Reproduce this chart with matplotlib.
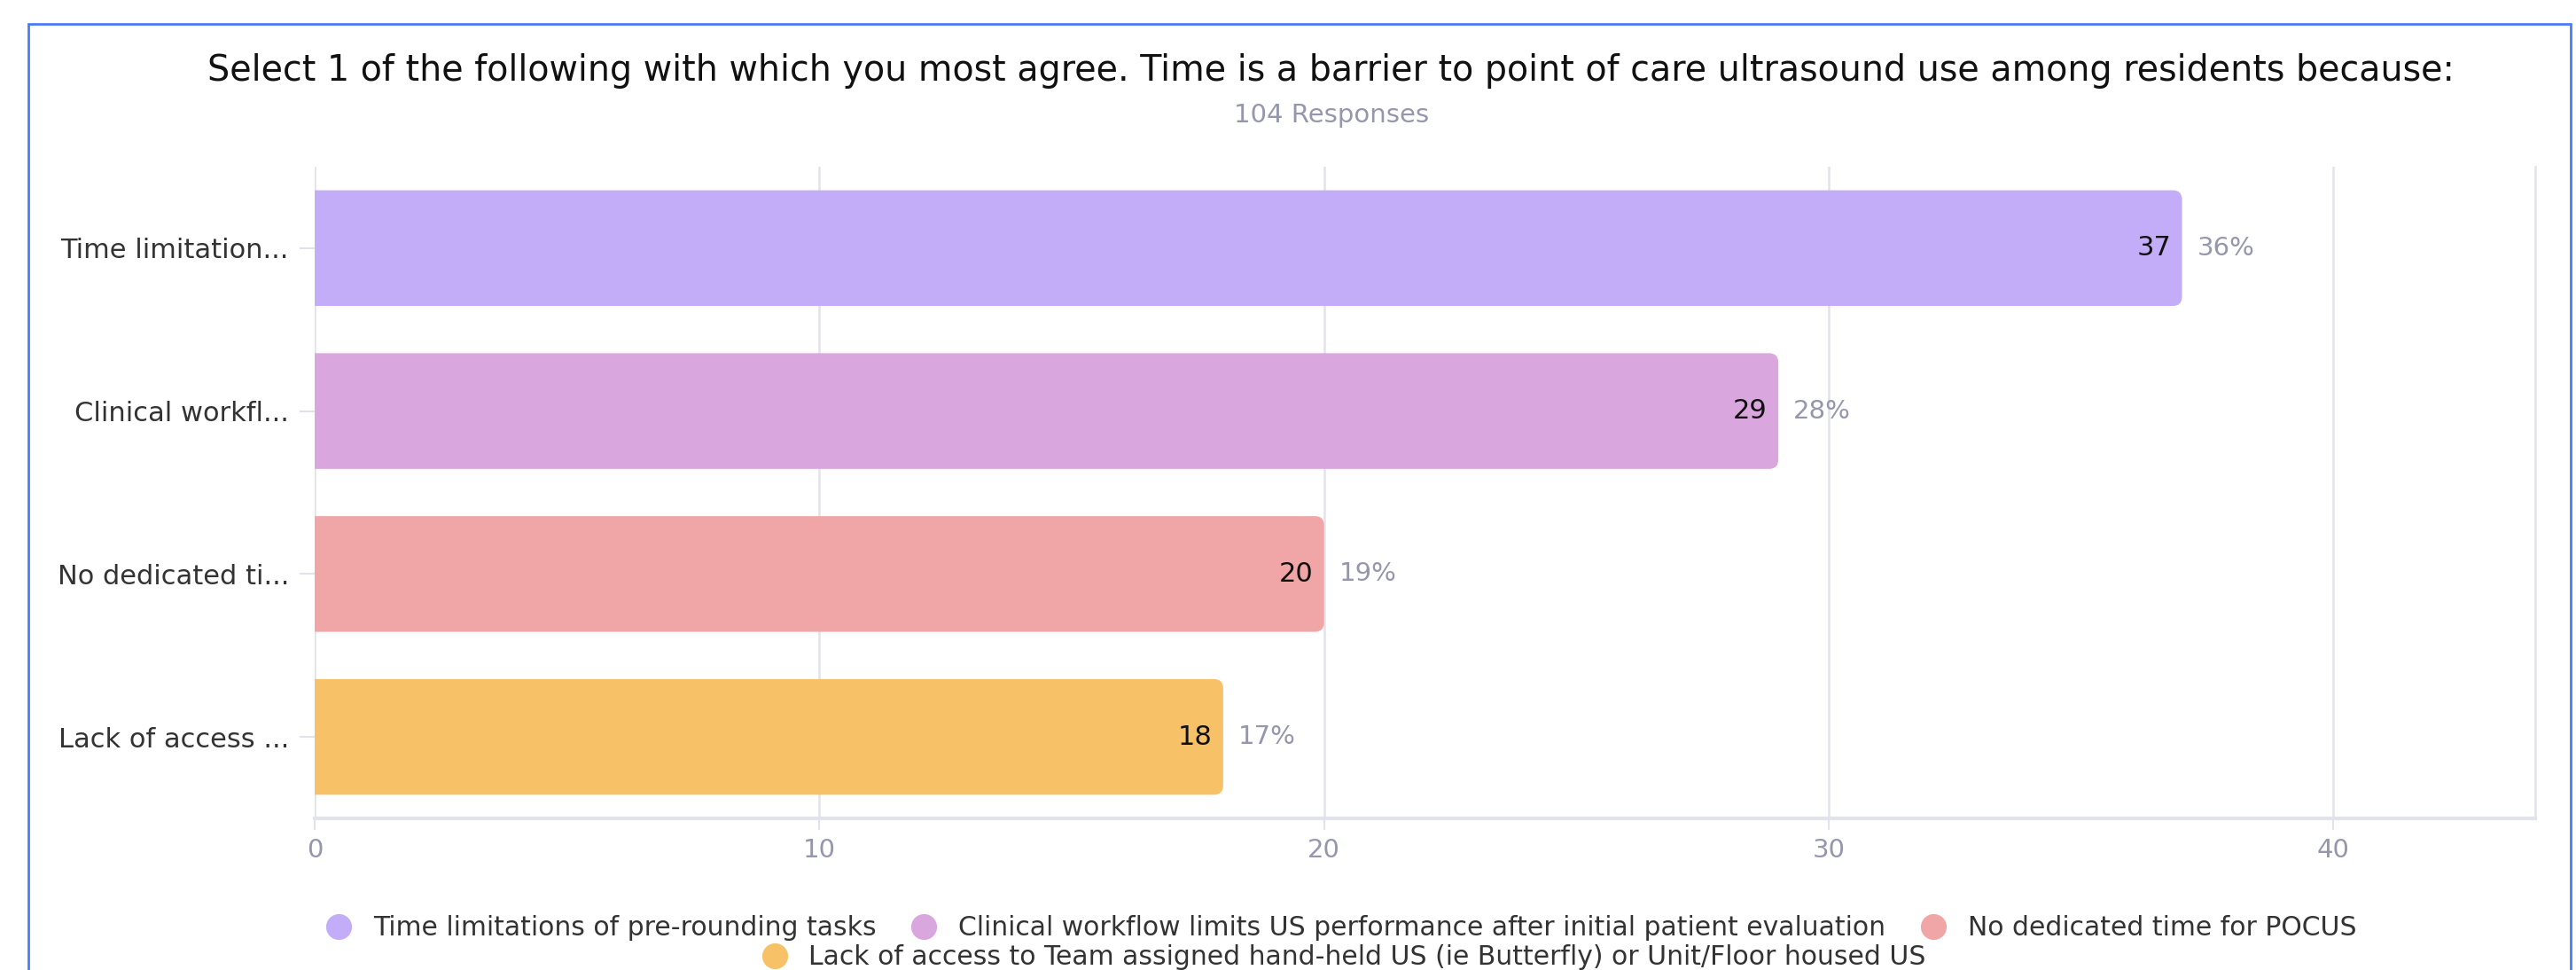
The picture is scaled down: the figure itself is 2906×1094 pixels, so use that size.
import matplotlib
matplotlib.use("Agg")
import matplotlib.pyplot as plt
from matplotlib.patches import FancyBboxPatch, Rectangle
from matplotlib.lines import Line2D

plt.rcParams['font.family'] = ['DejaVu Sans']

# data
short_labels = ["Time limitation...", "Clinical workfl...", "No dedicated ti...", "Lack of access ..."]
full_labels = ["Time limitations of pre-rounding tasks",
               "Clinical workflow limits US performance after initial patient evaluation",
               "No dedicated time for POCUS",
               "Lack of access to Team assigned hand-held US (ie Butterfly) or Unit/Floor housed US"]
counts = [37, 29, 20, 18]
percents = ["36%", "28%", "19%", "17%"]
colors = ["#c3adf8", "#d9a6de", "#f0a6a6", "#f7c267"]
x_ticks = [0, 10, 20, 30, 40]
total_responses = 104

title = ("Select 1 of the following with which you most agree. Time is a barrier "
         "to point of care ultrasound use among residents because:")

grid_col = "#e2e2ec"
gray_txt = "#9696ad"

fig = plt.figure(figsize=(29.06, 10.94), dpi=100)
ax = fig.add_axes([0.1222, 0.1563, 0.8620, 0.6719])

ypos = list(range(len(counts)))
bars = ax.barh(ypos, counts, height=0.71, color=colors)

# swap the plain bars for rounded ones (left side hidden behind x=0)
for b in bars:
    x0, y0, w, h = b.get_x(), b.get_y(), b.get_width(), b.get_height()
    b.set_visible(False)
    rb = FancyBboxPatch((x0 - 0.5, y0), w + 0.5, h,
                        boxstyle="round,pad=0,rounding_size=0.18",
                        mutation_aspect=0.32, facecolor=b.get_facecolor(),
                        edgecolor="none", zorder=3)
    ax.add_patch(rb)

for i, (c, p) in enumerate(zip(counts, percents)):
    ax.text(c - 0.22, i, str(c), ha="right", va="center", fontsize=22,
            color="#111111", zorder=4)
    ax.text(c + 0.3, i, p, ha="left", va="center", fontsize=21,
            color=gray_txt, zorder=4)

ax.set_xlim(0, 44)
ax.set_ylim(len(counts) - 0.5, -0.5)
ax.set_xticks(x_ticks)
ax.set_yticks(ypos)
ax.set_yticklabels(short_labels, fontsize=22, color="#333333")
ax.tick_params(axis="y", length=12, width=1.5, color=grid_col, pad=9)
ax.tick_params(axis="x", length=9, width=1.5, color=grid_col, pad=7,
               labelsize=21, labelcolor=gray_txt)

ax.grid(axis="x", color=grid_col, linewidth=1.8, zorder=0)
ax.set_axisbelow(True)
for s in ["top", "left"]:
    ax.spines[s].set_visible(False)
ax.spines["right"].set_color(grid_col)
ax.spines["right"].set_linewidth(1.8)
ax.spines["bottom"].set_color(grid_col)
ax.spines["bottom"].set_linewidth(3)

fig.text(0.5165, 0.927, title, ha="center", va="center", fontsize=28.5, color="#111111")
fig.text(0.517, 0.881, f"{total_responses} Responses", ha="center", va="center",
         fontsize=21, color=gray_txt)

handles = [Line2D([], [], marker="o", linestyle="", markersize=21, color=c,
                  markeredgewidth=0) for c in colors]
leg1 = fig.legend(handles[:3], full_labels[:3], ncol=3, loc="center",
                  bbox_to_anchor=(0.518, 0.043), frameon=False, fontsize=21.5,
                  handletextpad=0.3, columnspacing=0.8, borderpad=0)
leg2 = fig.legend(handles[3:], full_labels[3:], ncol=1, loc="center",
                  bbox_to_anchor=(0.519, 0.0128), frameon=False, fontsize=21.5,
                  handletextpad=0.3, borderpad=0)
for lg in (leg1, leg2):
    for t in lg.get_texts():
        t.set_color("#333333")

# blue frame around the card
fig.patches.append(Rectangle((32 / 2906, -0.05), (2900 - 32) / 2906, 1.05 - 27 / 1094,
                             transform=fig.transFigure, fill=False,
                             edgecolor="#4a7cf7", linewidth=2))

fig.savefig("out.png", dpi=100)
